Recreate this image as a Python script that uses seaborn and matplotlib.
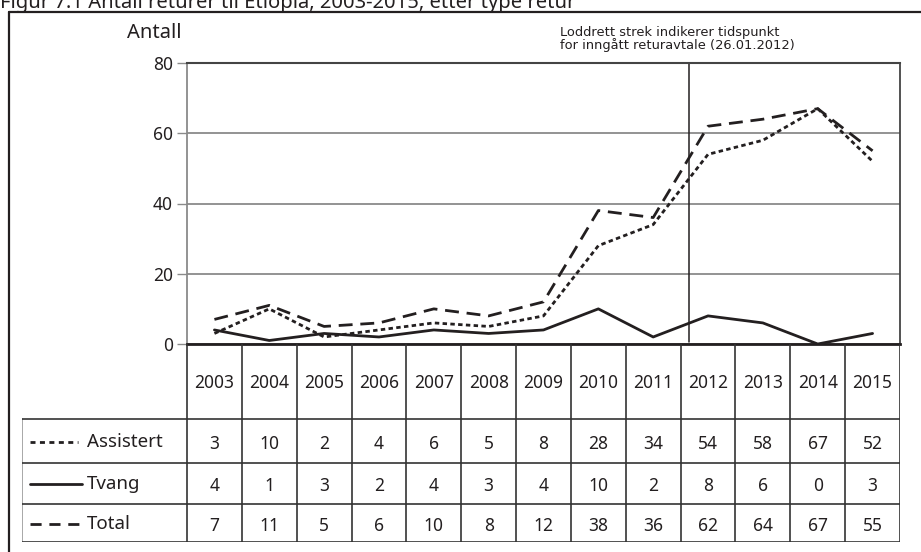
import numpy as np
import pandas as pd
import matplotlib
matplotlib.use("Agg")
import matplotlib.pyplot as plt
from matplotlib.lines import Line2D
import seaborn as sns

# Data (from the table in the figure)
years = [2003, 2004, 2005, 2006, 2007, 2008, 2009, 2010, 2011, 2012, 2013, 2014, 2015]
assistert = [3, 10, 2, 4, 6, 5, 8, 28, 34, 54, 58, 67, 52]
tvang = [4, 1, 3, 2, 4, 3, 4, 10, 2, 8, 6, 0, 3]
total = [7, 11, 5, 6, 10, 8, 12, 38, 36, 62, 64, 67, 55]
series_names = ["Assistert", "Tvang", "Total"]
y_ticks = [0, 20, 40, 60, 80]
agreement_pos = 2011.66  # 26.01.2012 on the column-centred year axis

title = "Figur 7.1 Antall returer til Etiopia, 2003-2015, etter type retur"
note = ["Loddrett strek indikerer tidspunkt", "for inngått returavtale (26.01.2012)"]

sns.set_style("white")
plt.rcParams['font.family'] = ['Noto Sans', 'DejaVu Sans']

ink = "#231f20"
grey = "#8a8a8a"
W, H = 921, 552
fig = plt.figure(figsize=(W / 100, H / 100), dpi=100)

def fx(px):
    return px / W

def fy(py):
    return 1 - py / H

# pixel layout
plot_l, plot_r, plot_t, plot_b = 187, 900, 63, 344
tab_l, tab_b = 22, 542
row_edges = [0, 75, 118.5, 160, 198]  # relative to plot bottom

df = pd.DataFrame({
    "år": years * 3,
    "antall": assistert + tvang + total,
    "type": np.repeat(series_names, len(years)),
})

ax = fig.add_axes([fx(plot_l), fy(plot_b), fx(plot_r) - fx(plot_l), fy(plot_t) - fy(plot_b)])
sns.lineplot(data=df, x="år", y="antall", style="type",
             dashes={"Assistert": (1.6, 1.2), "Tvang": "", "Total": (5, 2.8)},
             color=ink, lw=2.0, legend=False, ax=ax)
ax.set_xlim(years[0] - 0.5, years[-1] + 0.5)
ax.set_ylim(y_ticks[0], y_ticks[-1])
ax.set_yticks(y_ticks)
ax.set_xticks([])
ax.grid(axis="y", color=grey, lw=1.3)
ax.grid(axis="x", visible=False)
ax.set_axisbelow(True)
ax.set_xlabel("")
ax.set_ylabel("")
ax.tick_params(axis="y", left=True, length=7, width=1, color=grey, labelsize=12.5,
               labelcolor=ink, pad=3)
ax.spines["left"].set_color(grey)
ax.spines["left"].set_linewidth(1.3)
ax.spines["top"].set_color("#444444")
ax.spines["top"].set_linewidth(1.5)
ax.spines["right"].set_color("#444444")
ax.spines["right"].set_linewidth(1.3)
ax.spines["bottom"].set_color(ink)
ax.spines["bottom"].set_linewidth(2.0)
ax.axvline(agreement_pos, ymin=0.006, ymax=1.0, color=ink, lw=1.1)

# table under the plot
colw = (plot_r - plot_l) / len(years)
x0 = years[0] - 0.5 - (plot_l - tab_l) / colw
tax = fig.add_axes([fx(tab_l), fy(tab_b), fx(plot_r) - fx(tab_l), fy(plot_b) - fy(tab_b)])
tax.set_xlim(x0, years[-1] + 0.5)
tax.set_ylim(row_edges[-1], 0)
tax.axis("off")

def tx(px):
    return x0 + (px - tab_l) / colw

line_kw = dict(color="#333333", lw=1.2)
for i in range(len(years) + 1):
    tax.plot([years[0] - 0.5 + i] * 2, [0, row_edges[-1]], **line_kw)
tax.plot([x0, x0], [row_edges[1], row_edges[-1]], color="#9a9a9a", lw=1.2)
for e in row_edges[1:]:
    tax.plot([x0, years[-1] + 0.5], [e, e], **line_kw)

for yr in years:
    tax.text(yr, (row_edges[0] + row_edges[1]) / 2 + 2, str(yr), ha="center", va="center",
             fontsize=12.5, color=ink)

rows = [assistert, tvang, total]
samples = [((0, (1.8, 1.6)), 78), ("-", 82), ((0, (4, 2.8)), 82)]
for r, (name, vals) in enumerate(zip(series_names, rows)):
    yc = (row_edges[r + 1] + row_edges[r + 2]) / 2 + 3
    for yr, v in zip(years, vals):
        tax.text(yr, yc, str(v), ha="center", va="center", fontsize=12.5, color=ink)
    ls, end = samples[r]
    tax.plot([tx(30), tx(end)], [yc - 2, yc - 2], color=ink, lw=2.0, linestyle=ls)
    tax.text(tx(87), yc - 2, name, ha="left", va="center", fontsize=13.5, color=ink)

# texts around the plot
fig.text(fx(0), fy(8), title, ha="left", va="baseline", fontsize=14.5, color=ink)
fig.text(fx(181), fy(37.5), "Antall", ha="right", va="baseline", fontsize=14.5, color=ink)
fig.text(fx(560), fy(36), note[0], ha="left", va="baseline", fontsize=9.4,
         family="DejaVu Sans", color=ink)
fig.text(fx(560), fy(49), note[1], ha="left", va="baseline", fontsize=9.4,
         family="DejaVu Sans", color=ink)

# outer frame (cut by the image edge)
fig.add_artist(Line2D([fx(8.5), fx(8.5)], [fy(12), 0], color=ink, lw=1.6))
fig.add_artist(Line2D([fx(8.5), 1], [fy(12), fy(12)], color=ink, lw=1.6))

fig.savefig("out.png", dpi=100)
